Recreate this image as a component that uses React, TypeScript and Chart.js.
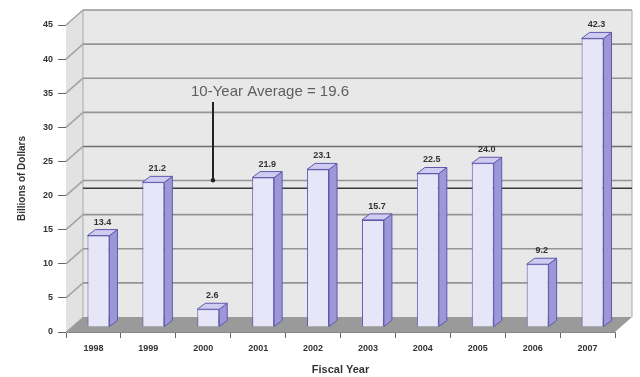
import React, { useEffect, useRef } from "react";
import { Chart, registerables } from "chart.js";

Chart.register(...registerables);

const categories = ["1998", "1999", "2000", "2001", "2002", "2003", "2004", "2005", "2006", "2007"];
const values = [13.4, 21.2, 2.6, 21.9, 23.1, 15.7, 22.5, 24.0, 9.2, 42.3];
const valueLabels = ["13.4", "21.2", "2.6", "21.9", "23.1", "15.7", "22.5", "24.0", "9.2", "42.3"];
const averageValue = 19.6;
const averageLabel = "10-Year Average = 19.6";
const yMax = 45;
const yStep = 5;
const emphasizedGrid = 25;
const xTitle = "Fiscal Year";
const yTitle = "Billions of Dollars";

const FONT = "'Liberation Sans', Arial, sans-serif";
// depth offsets of the pseudo-3D box
const DX = 17;
const DY = -15;
// bar offset (bars sit inside the depth)
const BX = 5;
const BY = -5;
// bar depth
const SX = 8;
const SY = -6;

const threeD = {
  id: "threeD",
  beforeDatasetsDraw(chart: any) {
    const { ctx, chartArea } = chart;
    const y = chart.scales.y;
    const { left, right, top, bottom } = chartArea;
    ctx.save();
    // left wall
    ctx.fillStyle = "#e2e2e2";
    ctx.beginPath();
    ctx.moveTo(left, top);
    ctx.lineTo(left + DX, top + DY);
    ctx.lineTo(left + DX, bottom + DY);
    ctx.lineTo(left, bottom);
    ctx.closePath();
    ctx.fill();
    // back wall
    ctx.fillStyle = "#e8e8e8";
    ctx.fillRect(left + DX, top + DY, right - left, bottom - top);
    // floor
    ctx.fillStyle = "#9a9a9a";
    ctx.beginPath();
    ctx.moveTo(left, bottom);
    ctx.lineTo(right, bottom);
    ctx.lineTo(right + DX, bottom + DY);
    ctx.lineTo(left + DX, bottom + DY);
    ctx.closePath();
    ctx.fill();
    // grid lines
    for (let v = yStep; v <= yMax; v += yStep) {
      const py = y.getPixelForValue(v);
      ctx.lineWidth = 1.6;
      ctx.strokeStyle = "#a4a4a4";
      ctx.beginPath();
      ctx.moveTo(left, py);
      ctx.lineTo(left + DX, py + DY);
      ctx.stroke();
      ctx.strokeStyle = v === emphasizedGrid ? "#6e6e6e" : "#949494";
      ctx.beginPath();
      ctx.moveTo(left + DX, py + DY);
      ctx.lineTo(right + DX, py + DY);
      ctx.stroke();
    }
    // edges
    ctx.strokeStyle = "#a8a8a8";
    ctx.lineWidth = 1;
    ctx.beginPath();
    ctx.moveTo(left + DX, top + DY);
    ctx.lineTo(left + DX, bottom + DY);
    ctx.moveTo(right + DX, top + DY);
    ctx.lineTo(right + DX, bottom + DY);
    ctx.moveTo(left, bottom);
    ctx.lineTo(left + DX, bottom + DY);
    ctx.stroke();
    // average line
    const ay = y.getPixelForValue(averageValue) + 2 * BY;
    ctx.strokeStyle = "#3a3a3a";
    ctx.lineWidth = 1.6;
    ctx.beginPath();
    ctx.moveTo(left + DX, ay);
    ctx.lineTo(right + DX, ay);
    ctx.stroke();
    // annotation
    ctx.fillStyle = "#5e5e5e";
    ctx.font = `15px ${FONT}`;
    ctx.textAlign = "left";
    ctx.textBaseline = "middle";
    ctx.fillText(averageLabel, 191, 92);
    ctx.strokeStyle = "#222";
    ctx.lineWidth = 2;
    ctx.beginPath();
    ctx.moveTo(213, 102);
    ctx.lineTo(213, ay - 8);
    ctx.stroke();
    ctx.fillStyle = "#222";
    ctx.beginPath();
    ctx.arc(213, ay - 8, 2.2, 0, Math.PI * 2);
    ctx.fill();
    ctx.restore();
    // shift bars into depth
    ctx.save();
    ctx.translate(BX, BY);
  },
  afterDatasetsDraw(chart: any) {
    const { ctx } = chart;
    ctx.restore();
    const meta = chart.getDatasetMeta(0);
    ctx.save();
    ctx.lineWidth = 1;
    ctx.strokeStyle = "#5f58ad";
    meta.data.forEach((bar: any, i: number) => {
      const { x, y, base, width } = bar.getProps(["x", "y", "base", "width"], true);
      const l = x - width / 2 + BX;
      const r = x + width / 2 + BX;
      const t = y + BY;
      const b = base + BY;
      // side face
      ctx.fillStyle = "#9d97d8";
      ctx.beginPath();
      ctx.moveTo(r, t);
      ctx.lineTo(r + SX, t + SY);
      ctx.lineTo(r + SX, b + SY);
      ctx.lineTo(r, b);
      ctx.closePath();
      ctx.fill();
      ctx.stroke();
      // top face
      ctx.fillStyle = "#cfcbf1";
      ctx.beginPath();
      ctx.moveTo(l, t);
      ctx.lineTo(l + SX, t + SY);
      ctx.lineTo(r + SX, t + SY);
      ctx.lineTo(r, t);
      ctx.closePath();
      ctx.fill();
      ctx.stroke();
      // value label
      ctx.fillStyle = "#333";
      ctx.font = `bold 9px ${FONT}`;
      ctx.textAlign = "center";
      ctx.textBaseline = "bottom";
      ctx.fillText(valueLabels[i], (l + r) / 2 + SX / 2, t + SY - 3);
    });
    ctx.restore();
  },
};

export default function App() {
  const ref = useRef<HTMLCanvasElement>(null);
  useEffect(() => {
    if (!ref.current) return;
    const chart = new Chart(ref.current, {
      type: "bar",
      data: {
        labels: categories,
        datasets: [
          {
            data: values,
            backgroundColor: "#e7e5f8",
            borderColor: "#5f58ad",
            borderWidth: 1,
            barPercentage: 0.4,
            categoryPercentage: 1,
          },
        ],
      },
      options: {
        responsive: false,
        animation: false,
        layout: { padding: { left: 0, top: 25, right: 25, bottom: 0 } },
        plugins: { legend: { display: false }, tooltip: { enabled: false } },
        scales: {
          x: {
            afterFit: (s: any) => {
              s.height = 45;
            },
            grid: {
              offset: true,
              drawOnChartArea: false,
              drawTicks: true,
              tickLength: 6,
              color: "#666",
            },
            border: { display: true, color: "#888", width: 1 },
            ticks: { color: "#333", font: { family: FONT, size: 9, weight: "bold" }, padding: 5, maxRotation: 0 },
            title: {
              display: true,
              text: xTitle,
              color: "#333",
              font: { family: FONT, size: 11, weight: "bold" },
              padding: { top: 0, bottom: 0 },
            },
          },
          y: {
            min: 0,
            max: yMax,
            afterFit: (s: any) => {
              s.width = 66;
            },
            grid: { drawOnChartArea: false, drawTicks: true, tickLength: 8, color: "#666" },
            border: { display: true, color: "#b0b0b0", width: 1 },
            ticks: { stepSize: yStep, color: "#333", font: { family: FONT, size: 9, weight: "bold" }, padding: 5 },
            title: {
              display: true,
              text: yTitle,
              color: "#333",
              font: { family: FONT, size: 10, weight: "bold" },
              padding: { top: 16, bottom: 0 },
            },
          },
        },
      },
      plugins: [threeD],
    });
    return () => chart.destroy();
  }, []);
  return (
    <div style={{ position: "fixed", left: 0, top: 0, width: 640, height: 377, background: "#fff" }}>
      <canvas ref={ref} width={640} height={377} />
    </div>
  );
}
